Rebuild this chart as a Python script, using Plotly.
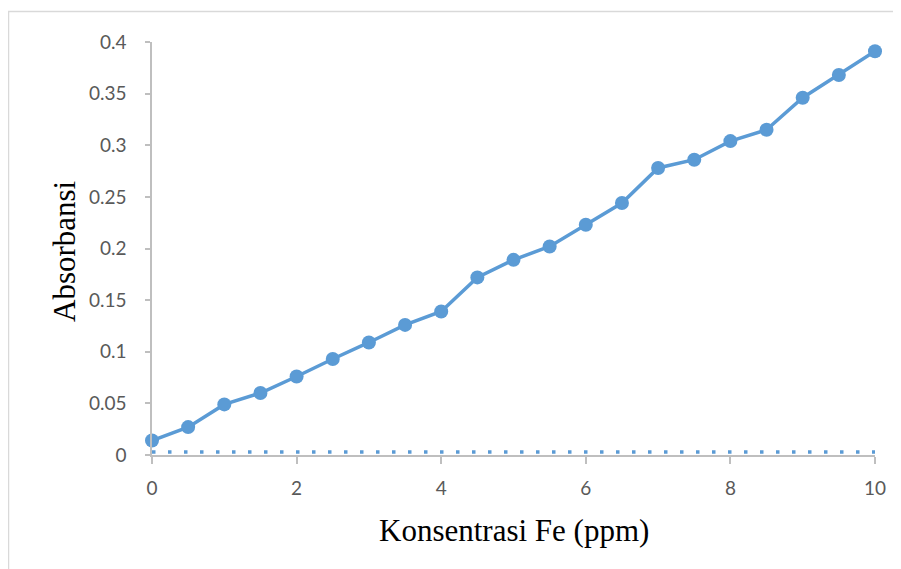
import plotly.graph_objects as go

# Data
konsentrasi = [0, 0.5, 1, 1.5, 2, 2.5, 3, 3.5, 4, 4.5, 5, 5.5, 6, 6.5, 7, 7.5, 8, 8.5, 9, 9.5, 10]
absorbansi = [0.014, 0.027, 0.049, 0.060, 0.076, 0.093, 0.109, 0.126, 0.139, 0.172, 0.189,
              0.202, 0.223, 0.244, 0.278, 0.286, 0.304, 0.315, 0.346, 0.368, 0.391]
baseline_x = [0, 10]
baseline_y = [0.003, 0.003]

x_ticks = [0, 2, 4, 6, 8, 10]
y_ticks = [0, 0.05, 0.1, 0.15, 0.2, 0.25, 0.3, 0.35, 0.4]
y_tick_text = ["0", "0.05", "0.1", "0.15", "0.2", "0.25", "0.3", "0.35", "0.4"]

W, H = 901, 569
OFF = 8  # page body offset
L, R, T, B = 152 - OFF, 26 + OFF, 42 - OFF, 114 + OFF
pw, ph = W - L - R, H - T - B

def px_x(p):
    return (p - OFF - L) / pw

def px_y(p):
    return (H - B - (p - OFF)) / ph

blue = "#5b9bd5"
axis_col = "#bfbfbf"
tick_font = dict(family="Lato, Carlito, sans-serif", size=19, color="#595959")
title_font = dict(family="Liberation Serif, Times New Roman, serif", size=31, color="black")

fig = go.Figure()
fig.add_trace(go.Scatter(
    x=baseline_x, y=baseline_y, mode="lines",
    line=dict(color=blue, width=3.5, dash="3.5px,12.5px"),
    cliponaxis=False, showlegend=False, hoverinfo="skip"))
fig.add_trace(go.Scatter(
    x=konsentrasi, y=absorbansi, mode="lines+markers",
    line=dict(color=blue, width=3.5),
    marker=dict(color=blue, size=14),
    cliponaxis=False, showlegend=False))

fig.update_layout(
    width=W, height=H,
    margin=dict(l=L, r=R, t=T, b=B, pad=0),
    paper_bgcolor="white", plot_bgcolor="white",
    xaxis=dict(range=[0, 10], tickvals=x_ticks, ticktext=[str(v) for v in x_ticks],
               showgrid=False, zeroline=False, showline=True, linecolor=axis_col, linewidth=1.5,
               ticks="outside", ticklen=7, tickcolor=axis_col, tickwidth=1.5,
               tickfont=tick_font, ticklabelstandoff=8),
    yaxis=dict(range=[0, 0.4], tickvals=y_ticks, ticktext=y_tick_text,
               showgrid=False, zeroline=False, showline=True, linecolor=axis_col, linewidth=1.5,
               ticks="outside", ticklen=5, tickcolor=axis_col, tickwidth=1.5,
               tickfont=tick_font, ticklabelstandoff=15),
    shapes=[dict(type="rect", xref="paper", yref="paper",
                 x0=px_x(8.5), x1=px_x(920), y0=px_y(590), y1=px_y(11.5),
                 line=dict(color="#d9d9d9", width=1.5), fillcolor="rgba(0,0,0,0)", layer="below")],
    annotations=[
        dict(text="Absorbansi", xref="paper", yref="paper", x=px_x(65), y=px_y(251),
             showarrow=False, textangle=-90, xanchor="center", yanchor="middle",
             font=title_font),
        dict(text="Konsentrasi Fe (ppm)", xref="paper", yref="paper", x=px_x(514), y=px_y(530),
             showarrow=False, xanchor="center", yanchor="middle",
             font=title_font),
    ],
)

fig.write_html("out.html")
